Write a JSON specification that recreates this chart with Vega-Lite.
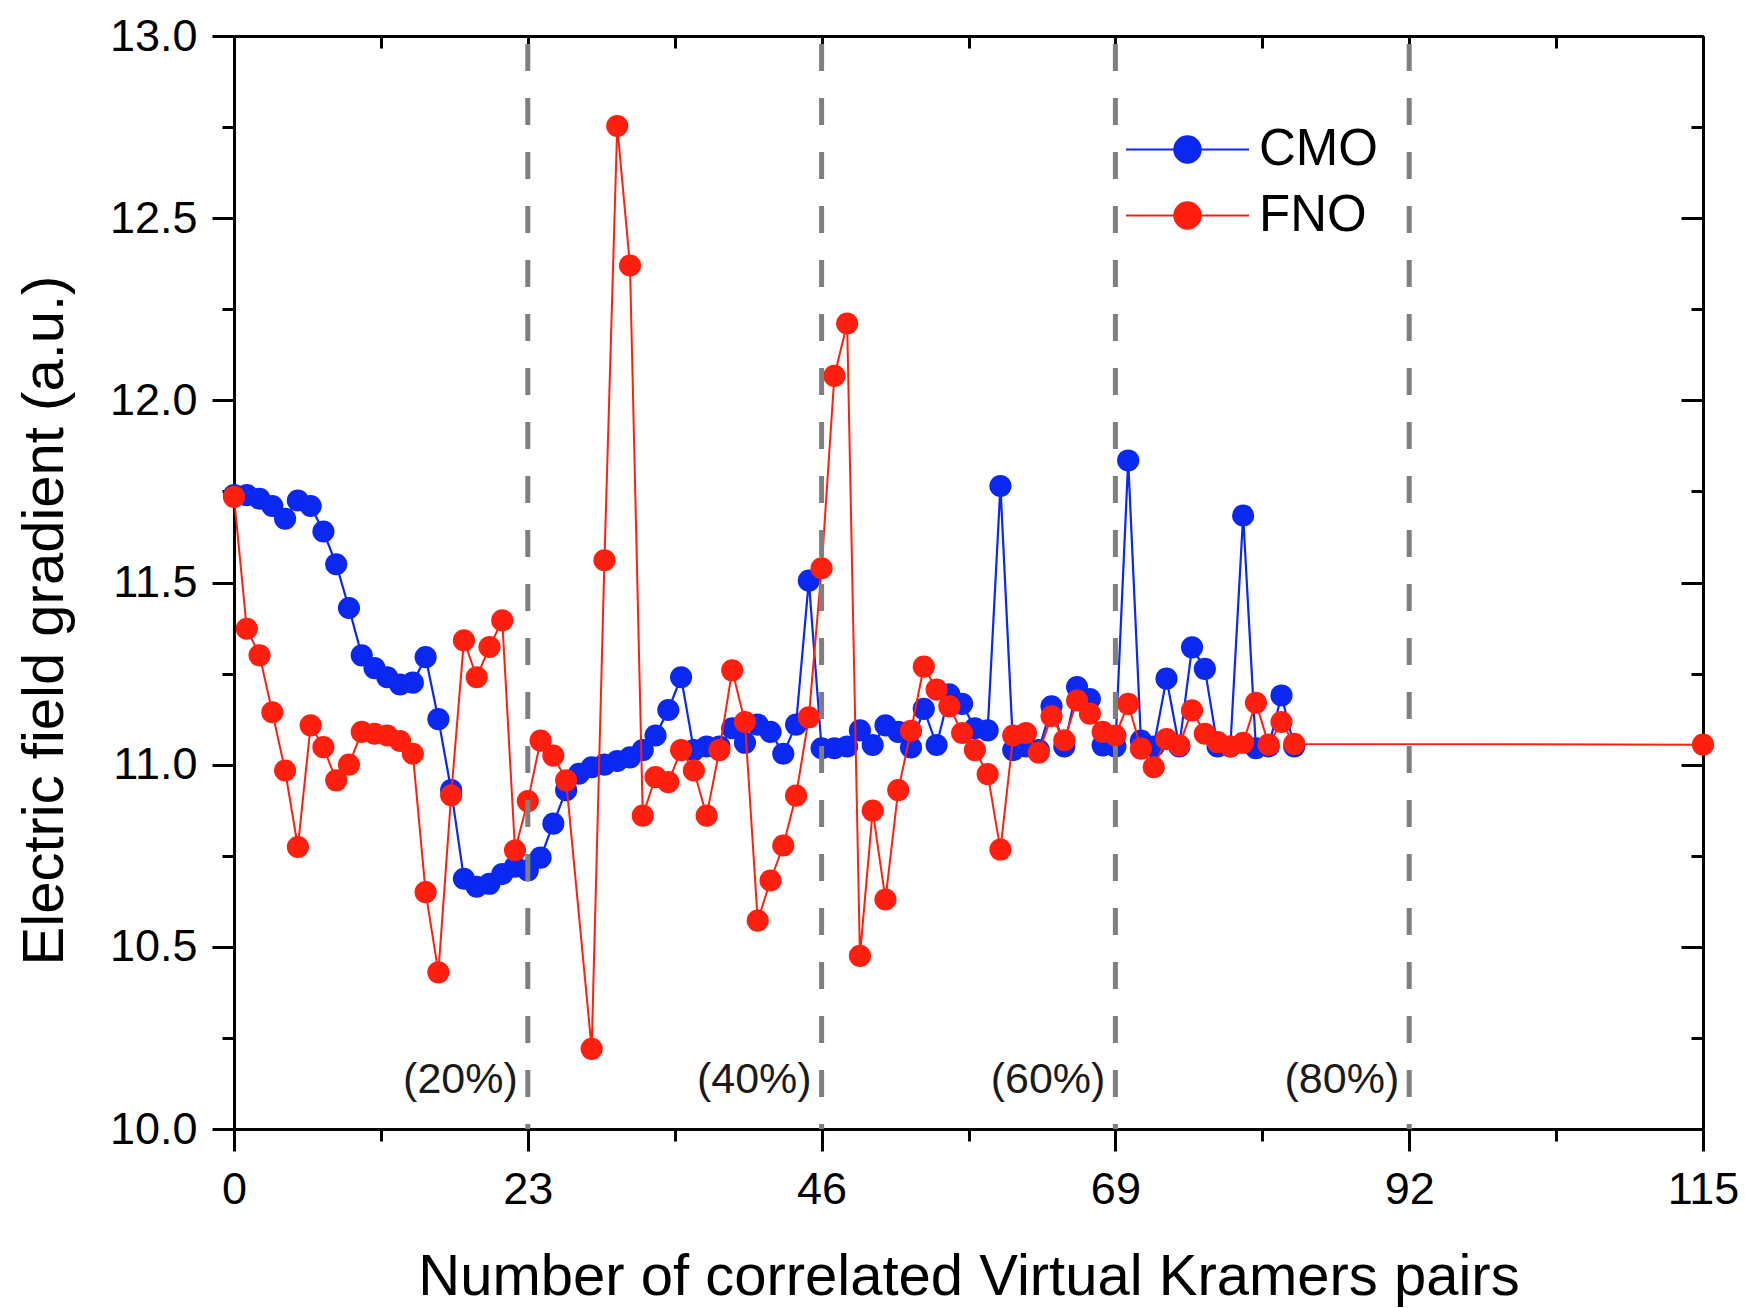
{
  "$schema": "https://vega.github.io/schema/vega-lite/v6.json",
  "width": 1469,
  "height": 1093,
  "autosize": {"type": "none"},
  "padding": {"left": 234, "top": 36, "right": 42, "bottom": 179},
  "background": "white",
  "config": {
    "view": {"stroke": null},
    "font": "Liberation Sans",
    "axis": {"labelFont": "Liberation Sans", "titleFont": "Liberation Sans", "grid": false},
    "legend": {"labelFont": "Liberation Sans"},
    "text": {"font": "Liberation Sans"}
  },
  "datasets": {
    "efg": [
      {"n":0,"efg":11.74,"series":"CMO"},{"n":1,"efg":11.74,"series":"CMO"},{"n":2,"efg":11.73,"series":"CMO"},{"n":3,"efg":11.71,"series":"CMO"},{"n":4,"efg":11.675,"series":"CMO"},{"n":5,"efg":11.725,"series":"CMO"},{"n":6,"efg":11.71,"series":"CMO"},{"n":7,"efg":11.64,"series":"CMO"},{"n":8,"efg":11.55,"series":"CMO"},{"n":9,"efg":11.43,"series":"CMO"},
      {"n":10,"efg":11.30,"series":"CMO"},{"n":11,"efg":11.265,"series":"CMO"},{"n":12,"efg":11.24,"series":"CMO"},{"n":13,"efg":11.22,"series":"CMO"},{"n":14,"efg":11.225,"series":"CMO"},{"n":15,"efg":11.295,"series":"CMO"},{"n":16,"efg":11.125,"series":"CMO"},{"n":17,"efg":10.93,"series":"CMO"},{"n":18,"efg":10.687,"series":"CMO"},{"n":19,"efg":10.665,"series":"CMO"},
      {"n":20,"efg":10.673,"series":"CMO"},{"n":21,"efg":10.70,"series":"CMO"},{"n":22,"efg":10.72,"series":"CMO"},{"n":23,"efg":10.71,"series":"CMO"},{"n":24,"efg":10.745,"series":"CMO"},{"n":25,"efg":10.838,"series":"CMO"},{"n":26,"efg":10.93,"series":"CMO"},{"n":27,"efg":10.975,"series":"CMO"},{"n":28,"efg":10.993,"series":"CMO"},{"n":29,"efg":11.0,"series":"CMO"},
      {"n":30,"efg":11.01,"series":"CMO"},{"n":31,"efg":11.02,"series":"CMO"},{"n":32,"efg":11.04,"series":"CMO"},{"n":33,"efg":11.08,"series":"CMO"},{"n":34,"efg":11.15,"series":"CMO"},{"n":35,"efg":11.24,"series":"CMO"},{"n":36,"efg":11.04,"series":"CMO"},{"n":37,"efg":11.05,"series":"CMO"},{"n":38,"efg":11.05,"series":"CMO"},{"n":39,"efg":11.10,"series":"CMO"},
      {"n":40,"efg":11.06,"series":"CMO"},{"n":41,"efg":11.11,"series":"CMO"},{"n":42,"efg":11.09,"series":"CMO"},{"n":43,"efg":11.03,"series":"CMO"},{"n":44,"efg":11.11,"series":"CMO"},{"n":45,"efg":11.505,"series":"CMO"},{"n":46,"efg":11.045,"series":"CMO"},{"n":47,"efg":11.045,"series":"CMO"},{"n":48,"efg":11.05,"series":"CMO"},{"n":49,"efg":11.094,"series":"CMO"},
      {"n":50,"efg":11.054,"series":"CMO"},{"n":51,"efg":11.108,"series":"CMO"},{"n":52,"efg":11.09,"series":"CMO"},{"n":53,"efg":11.047,"series":"CMO"},{"n":54,"efg":11.153,"series":"CMO"},{"n":55,"efg":11.054,"series":"CMO"},{"n":56,"efg":11.193,"series":"CMO"},{"n":57,"efg":11.167,"series":"CMO"},{"n":58,"efg":11.10,"series":"CMO"},{"n":59,"efg":11.094,"series":"CMO"},
      {"n":60,"efg":11.765,"series":"CMO"},{"n":61,"efg":11.04,"series":"CMO"},{"n":62,"efg":11.05,"series":"CMO"},{"n":63,"efg":11.04,"series":"CMO"},{"n":64,"efg":11.16,"series":"CMO"},{"n":65,"efg":11.05,"series":"CMO"},{"n":66,"efg":11.213,"series":"CMO"},{"n":67,"efg":11.18,"series":"CMO"},{"n":68,"efg":11.053,"series":"CMO"},{"n":69,"efg":11.05,"series":"CMO"},
      {"n":70,"efg":11.835,"series":"CMO"},{"n":71,"efg":11.066,"series":"CMO"},{"n":72,"efg":11.05,"series":"CMO"},{"n":73,"efg":11.236,"series":"CMO"},{"n":74,"efg":11.05,"series":"CMO"},{"n":75,"efg":11.322,"series":"CMO"},{"n":76,"efg":11.263,"series":"CMO"},{"n":77,"efg":11.05,"series":"CMO"},{"n":78,"efg":11.05,"series":"CMO"},{"n":79,"efg":11.684,"series":"CMO"},
      {"n":80,"efg":11.045,"series":"CMO"},{"n":81,"efg":11.05,"series":"CMO"},{"n":82,"efg":11.19,"series":"CMO"},{"n":83,"efg":11.05,"series":"CMO"},
      {"n":0,"efg":11.735,"series":"FNO"},{"n":1,"efg":11.373,"series":"FNO"},{"n":2,"efg":11.30,"series":"FNO"},{"n":3,"efg":11.144,"series":"FNO"},{"n":4,"efg":10.984,"series":"FNO"},{"n":5,"efg":10.774,"series":"FNO"},{"n":6,"efg":11.108,"series":"FNO"},{"n":7,"efg":11.048,"series":"FNO"},{"n":8,"efg":10.957,"series":"FNO"},{"n":9,"efg":11.0,"series":"FNO"},
      {"n":10,"efg":11.09,"series":"FNO"},{"n":11,"efg":11.085,"series":"FNO"},{"n":12,"efg":11.08,"series":"FNO"},{"n":13,"efg":11.065,"series":"FNO"},{"n":14,"efg":11.03,"series":"FNO"},{"n":15,"efg":10.65,"series":"FNO"},{"n":16,"efg":10.43,"series":"FNO"},{"n":17,"efg":10.916,"series":"FNO"},{"n":18,"efg":11.341,"series":"FNO"},{"n":19,"efg":11.24,"series":"FNO"},
      {"n":20,"efg":11.323,"series":"FNO"},{"n":21,"efg":11.396,"series":"FNO"},{"n":22,"efg":10.765,"series":"FNO"},{"n":23,"efg":10.90,"series":"FNO"},{"n":24,"efg":11.066,"series":"FNO"},{"n":25,"efg":11.025,"series":"FNO"},{"n":26,"efg":10.957,"series":"FNO"},{"n":28,"efg":10.22,"series":"FNO"},{"n":29,"efg":11.561,"series":"FNO"},
      {"n":30,"efg":12.753,"series":"FNO"},{"n":31,"efg":12.37,"series":"FNO"},{"n":32,"efg":10.86,"series":"FNO"},{"n":33,"efg":10.966,"series":"FNO"},{"n":34,"efg":10.952,"series":"FNO"},{"n":35,"efg":11.04,"series":"FNO"},{"n":36,"efg":10.984,"series":"FNO"},{"n":37,"efg":10.86,"series":"FNO"},{"n":38,"efg":11.04,"series":"FNO"},{"n":39,"efg":11.259,"series":"FNO"},
      {"n":40,"efg":11.117,"series":"FNO"},{"n":41,"efg":10.572,"series":"FNO"},{"n":42,"efg":10.682,"series":"FNO"},{"n":43,"efg":10.778,"series":"FNO"},{"n":44,"efg":10.915,"series":"FNO"},{"n":45,"efg":11.13,"series":"FNO"},{"n":46,"efg":11.539,"series":"FNO"},{"n":47,"efg":12.067,"series":"FNO"},{"n":48,"efg":12.211,"series":"FNO"},{"n":49,"efg":10.475,"series":"FNO"},
      {"n":50,"efg":10.874,"series":"FNO"},{"n":51,"efg":10.63,"series":"FNO"},{"n":52,"efg":10.93,"series":"FNO"},{"n":53,"efg":11.093,"series":"FNO"},{"n":54,"efg":11.269,"series":"FNO"},{"n":55,"efg":11.206,"series":"FNO"},{"n":56,"efg":11.16,"series":"FNO"},{"n":57,"efg":11.087,"series":"FNO"},{"n":58,"efg":11.04,"series":"FNO"},{"n":59,"efg":10.974,"series":"FNO"},
      {"n":60,"efg":10.767,"series":"FNO"},{"n":61,"efg":11.08,"series":"FNO"},{"n":62,"efg":11.087,"series":"FNO"},{"n":63,"efg":11.033,"series":"FNO"},{"n":64,"efg":11.133,"series":"FNO"},{"n":65,"efg":11.067,"series":"FNO"},{"n":66,"efg":11.176,"series":"FNO"},{"n":67,"efg":11.14,"series":"FNO"},{"n":68,"efg":11.09,"series":"FNO"},{"n":69,"efg":11.08,"series":"FNO"},
      {"n":70,"efg":11.167,"series":"FNO"},{"n":71,"efg":11.044,"series":"FNO"},{"n":72,"efg":10.993,"series":"FNO"},{"n":73,"efg":11.07,"series":"FNO"},{"n":74,"efg":11.053,"series":"FNO"},{"n":75,"efg":11.149,"series":"FNO"},{"n":76,"efg":11.085,"series":"FNO"},{"n":77,"efg":11.062,"series":"FNO"},{"n":78,"efg":11.05,"series":"FNO"},{"n":79,"efg":11.06,"series":"FNO"},
      {"n":80,"efg":11.17,"series":"FNO"},{"n":81,"efg":11.055,"series":"FNO"},{"n":82,"efg":11.117,"series":"FNO"},{"n":83,"efg":11.057,"series":"FNO"},{"n":115,"efg":11.055,"series":"FNO"}
    ],
    "splits": [
      {"n": 23, "label": "(20%)"},
      {"n": 46, "label": "(40%)"},
      {"n": 69, "label": "(60%)"},
      {"n": 92, "label": "(80%)"}
    ]
  },
  "layer": [
    {
      "data": {"name": "efg"},
      "transform": [{"filter": "datum.series === 'CMO'"}],
      "mark": {"type": "line", "strokeWidth": 2.2, "point": {"filled": true, "size": 490, "opacity": 1}},
      "encoding": {
        "x": {
          "field": "n", "type": "quantitative",
          "scale": {"domain": [0, 115], "nice": false, "zero": false},
          "axis": {
            "orient": "bottom",
            "values": [0, 11.5, 23, 34.5, 46, 57.5, 69, 80.5, 92, 103.5, 115],
            "labelExpr": "datum.value % 23 === 0 ? datum.label : ''",
            "labelFlush": false, "labelOverlap": false,
            "labelFontSize": 45, "labelColor": "black", "labelPadding": 16,
            "tickSize": {"condition": {"test": "datum.value % 23 === 0", "value": 22}, "value": 12},
            "tickWidth": 3, "tickColor": "black",
            "domainColor": "black", "domainWidth": 3,
            "title": "Number of correlated Virtual Kramers pairs",
            "titleFontSize": 58, "titleFontWeight": "normal", "titleColor": "black",
            "titleY": 165, "titleBaseline": "alphabetic"
          }
        },
        "y": {
          "field": "efg", "type": "quantitative",
          "scale": {"domain": [10, 13], "nice": false, "zero": false},
          "axis": {
            "orient": "left",
            "values": [10, 10.25, 10.5, 10.75, 11, 11.25, 11.5, 11.75, 12, 12.25, 12.5, 12.75, 13],
            "labelExpr": "(datum.value * 2) % 1 === 0 ? format(datum.value, '.1f') : ''",
            "labelFlush": false, "labelOverlap": false,
            "labelFontSize": 45, "labelColor": "black", "labelPadding": 15,
            "tickSize": {"condition": {"test": "(datum.value * 2) % 1 === 0", "value": 22}, "value": 12},
            "tickWidth": 3, "tickColor": "black",
            "domainColor": "black", "domainWidth": 3,
            "title": "Electric field gradient (a.u.)",
            "titleFontSize": 58, "titleFontWeight": "normal", "titleColor": "black",
            "titleAngle": -90, "titleX": -172, "titleY": 584,
            "titleBaseline": "alphabetic", "titleAlign": "center"
          }
        },
        "color": {
          "field": "series", "type": "nominal",
          "scale": {"domain": ["CMO", "FNO"], "range": ["#0a28f0", "#ff1f0f"]},
          "legend": {
            "title": null,
            "orient": "none",
            "legendX": 928,
            "legendY": 88,
            "padding": 0,
            "labelFontSize": 51,
            "labelColor": "black",
            "labelOffset": 46,
            "rowPadding": 14,
            "symbolSize": 700,
            "symbolType": "M-4.65,0L4.65,0M1,0A1,1,0,1,0,-1,0A1,1,0,1,0,1,0Z",
            "symbolStrokeWidth": 2,
            "encode": {
              "symbols": {
                "update": {
                  "fill": {"scale": "color", "field": "value"},
                  "stroke": {"scale": "color", "field": "value"},
                  "opacity": {"value": 1}
                }
              }
            }
          }
        }
      }
    },
    {
      "data": {"name": "efg"},
      "transform": [{"filter": "datum.series === 'FNO'"}],
      "mark": {"type": "line", "strokeWidth": 2, "point": {"filled": true, "size": 490, "opacity": 1}},
      "encoding": {
        "x": {"field": "n", "type": "quantitative", "axis": null},
        "y": {"field": "efg", "type": "quantitative", "axis": null},
        "color": {"field": "series", "type": "nominal"}
      }
    },
    {
      "data": {"name": "splits"},
      "mark": {"type": "rule", "strokeDash": [27, 27], "strokeDashOffset": 46, "color": "#7f7f7f", "strokeWidth": 5},
      "encoding": {
        "x": {
          "field": "n", "type": "quantitative",
          "axis": {
            "orient": "top",
            "values": [0, 11.5, 23, 34.5, 46, 57.5, 69, 80.5, 92, 103.5, 115],
            "labels": false,
            "tickSize": {"condition": {"test": "datum.value % 23 === 0", "value": -22}, "value": -12},
            "tickWidth": 3, "tickColor": "black",
            "domainColor": "black", "domainWidth": 3,
            "title": null
          }
        }
      }
    },
    {
      "data": {"name": "splits"},
      "mark": {"type": "text", "align": "right", "baseline": "alphabetic", "dx": -10, "fontSize": 43, "color": "#1a1a1a"},
      "encoding": {
        "x": {"field": "n", "type": "quantitative", "axis": null},
        "y": {
          "datum": 10.1, "type": "quantitative",
          "axis": {
            "orient": "right",
            "values": [10, 10.25, 10.5, 10.75, 11, 11.25, 11.5, 11.75, 12, 12.25, 12.5, 12.75, 13],
            "labels": false,
            "tickSize": {"condition": {"test": "(datum.value * 2) % 1 === 0", "value": -22}, "value": -12},
            "tickWidth": 3, "tickColor": "black",
            "domainColor": "black", "domainWidth": 3,
            "title": null
          }
        },
        "text": {"field": "label"}
      }
    }
  ],
  "resolve": {"axis": {"x": "independent", "y": "independent"}}
}
